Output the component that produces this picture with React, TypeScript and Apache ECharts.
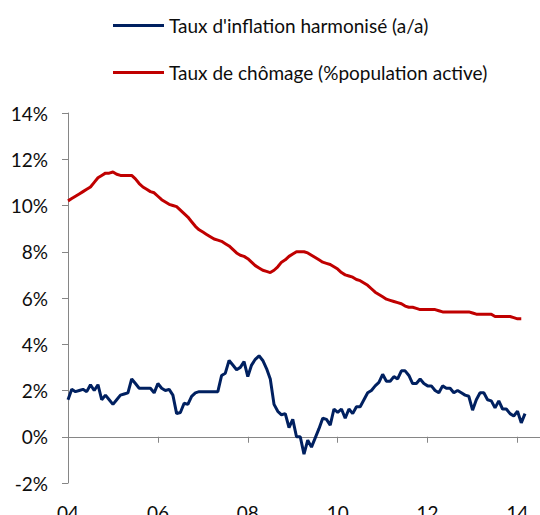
import React, { useEffect, useRef } from "react";
import * as echarts from "echarts";

// Monthly observations, first point = April 2004
const START_YEAR = 2004;
const START_MONTH = 4;
const MONTH_COUNT = 127; // axis runs to the right edge (Oct 2014)

const tickLabels = ["04", "06", "08", "10", "12", "14"];

const inflation = [
  1.6, 2.05, 1.95, 2.0, 2.05, 1.95, 2.25, 2.0, 2.25, 1.6, 1.8, 1.6,
  1.4, 1.6, 1.8, 1.85, 1.9, 2.5, 2.3, 2.1, 2.1, 2.1, 2.1, 1.9,
  2.3, 2.1, 2.0, 2.05, 1.8, 1.0, 1.05, 1.45, 1.4, 1.75, 1.9, 1.95,
  1.95, 1.95, 1.95, 1.95, 1.95, 2.65, 2.75, 3.3, 3.1, 2.9, 3.0, 3.25,
  2.6, 3.1, 3.35, 3.5, 3.3, 2.95, 2.5, 1.4, 1.1, 0.95, 1.0, 0.4,
  0.75, 0.0, 0.0, -0.75, -0.15, -0.45, -0.05, 0.35, 0.8, 0.75, 0.5, 1.2,
  1.05, 1.2, 0.8, 1.2, 1.0, 1.3, 1.3, 1.6, 1.9, 2.0, 2.2, 2.35,
  2.7, 2.4, 2.4, 2.6, 2.5, 2.85, 2.85, 2.65, 2.3, 2.3, 2.5, 2.3,
  2.2, 2.2, 2.0, 1.9, 2.2, 2.1, 2.1, 1.9, 2.0, 1.9, 1.8, 1.75,
  1.15, 1.6, 1.9, 1.9, 1.6, 1.55, 1.25, 1.55, 1.2, 1.2, 1.0, 0.9,
  1.1, 0.6, 1.0,
];

const unemployment = [
  10.2, 10.3, 10.4, 10.5, 10.6, 10.7, 10.8, 11.0, 11.2, 11.3, 11.4, 11.4,
  11.45, 11.35, 11.3, 11.3, 11.3, 11.3, 11.15, 10.95, 10.8, 10.7, 10.6, 10.55,
  10.4, 10.25, 10.15, 10.05, 10.0, 9.95, 9.8, 9.65, 9.5, 9.3, 9.1, 8.95,
  8.85, 8.75, 8.65, 8.55, 8.5, 8.45, 8.35, 8.25, 8.1, 7.95, 7.85, 7.8,
  7.7, 7.55, 7.4, 7.3, 7.2, 7.15, 7.1, 7.2, 7.35, 7.55, 7.65, 7.8,
  7.9, 8.0, 8.0, 8.0, 7.95, 7.85, 7.75, 7.65, 7.55, 7.5, 7.45, 7.35,
  7.25, 7.1, 7.0, 6.95, 6.9, 6.8, 6.75, 6.65, 6.55, 6.4, 6.25, 6.15,
  6.05, 5.95, 5.9, 5.85, 5.8, 5.75, 5.65, 5.6, 5.6, 5.55, 5.5, 5.5,
  5.5, 5.5, 5.5, 5.45, 5.4, 5.4, 5.4, 5.4, 5.4, 5.4, 5.4, 5.4,
  5.35, 5.3, 5.3, 5.3, 5.3, 5.3, 5.2, 5.2, 5.2, 5.2, 5.2, 5.15,
  5.1, 5.1,
];

const seriesNames = [
  "Taux d'inflation harmonisé (a/a)",
  "Taux de chômage (%population active)",
];

const months: string[] = [];
for (let i = 0; i < MONTH_COUNT; i++) {
  const m0 = START_MONTH - 1 + i;
  const y = START_YEAR + Math.floor(m0 / 12);
  const m = (m0 % 12) + 1;
  months.push(`${y}-${m < 10 ? "0" + m : m}`);
}

const FONT = "Lato";
const AXIS_COLOR = "#868686";
const TEXT_COLOR = "#0d0d0d";

export default function App() {
  const ref = useRef<HTMLDivElement>(null);
  useEffect(() => {
    if (!ref.current) return;
    const chart = echarts.init(ref.current, undefined, { renderer: "svg" });
    const labelFmt = (_v: string, idx: number) =>
      idx % 24 === 0 ? tickLabels[idx / 24] ?? "" : "";
    chart.setOption({
      animation: false,
      backgroundColor: "#ffffff",
      textStyle: { fontFamily: FONT },
      legend: {
        orient: "vertical",
        left: 113,
        top: 15,
        padding: 0,
        itemWidth: 51,
        itemHeight: 3,
        itemGap: 26,
        icon: "rect",
        selectedMode: false,
        textStyle: {
          fontFamily: FONT,
          fontSize: 19,
          color: TEXT_COLOR,
          lineHeight: 21,
          padding: [0, 0, 0, 0],
        },
        data: seriesNames,
      },
      grid: {
        left: 68,
        right: 0,
        top: 113,
        bottom: 32,
        containLabel: false,
        outerBoundsMode: "none",
      },
      xAxis: [
        {
          type: "category",
          data: months,
          boundaryGap: false,
          position: "bottom",
          axisLine: { onZero: true, lineStyle: { color: AXIS_COLOR, width: 1 } },
          axisTick: { show: true, interval: 23, length: 6, lineStyle: { color: AXIS_COLOR } },
          axisLabel: { show: false },
          splitLine: { show: false },
        },
        {
          type: "category",
          data: months,
          boundaryGap: false,
          position: "bottom",
          axisLine: { show: false, onZero: false },
          axisTick: { show: false },
          axisLabel: {
            show: true,
            interval: 0,
            formatter: labelFmt,
            margin: 20,
            fontFamily: FONT,
            fontSize: 19,
            color: TEXT_COLOR,
          },
          splitLine: { show: false },
        },
      ],
      yAxis: {
        type: "value",
        min: -2,
        max: 14,
        interval: 2,
        axisLine: { show: true, lineStyle: { color: AXIS_COLOR, width: 1 } },
        axisTick: { show: true, length: 6, lineStyle: { color: AXIS_COLOR } },
        axisLabel: {
          formatter: (v: number) => `${v}%`,
          margin: 20,
          fontFamily: FONT,
          fontSize: 19,
          color: TEXT_COLOR,
        },
        splitLine: { show: false },
      },
      series: [
        {
          name: seriesNames[0],
          type: "line",
          data: inflation,
          xAxisIndex: 0,
          symbol: "none",
          showSymbol: false,
          color: "#002060",
          lineStyle: { width: 3, color: "#002060" },
          z: 3,
        },
        {
          name: seriesNames[1],
          type: "line",
          data: unemployment,
          xAxisIndex: 0,
          symbol: "none",
          showSymbol: false,
          color: "#C00000",
          lineStyle: { width: 3, color: "#C00000" },
          z: 2,
        },
      ],
    });
    return () => chart.dispose();
  }, []);
  return (
    <div
      ref={ref}
      style={{ position: "fixed", left: 0, top: 0, width: 540, height: 515 }}
    />
  );
}
